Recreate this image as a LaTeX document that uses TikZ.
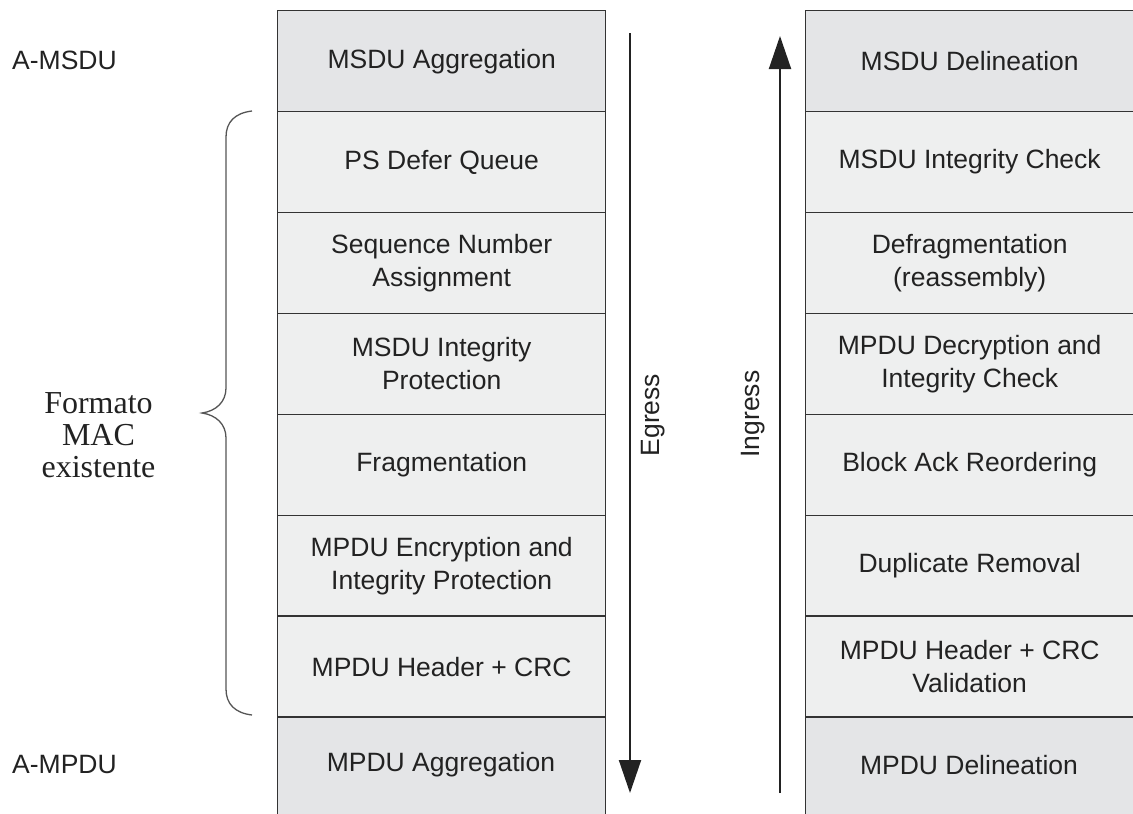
\documentclass[tikz,border=0pt]{standalone}
\usepackage{fontspec}
\setmainfont{Liberation Sans}
\newfontfamily\serifface{Liberation Serif}
\usetikzlibrary{arrows.meta}
\definecolor{edgecol}{HTML}{333333}
\definecolor{endfill}{HTML}{E4E5E7}
\definecolor{midfill}{HTML}{EEEFEF}
\definecolor{inkcol}{HTML}{222222}
\definecolor{bracecol}{HTML}{555555}

\begin{document}
\begin{tikzpicture}[x=1pt,y=-1pt,
  lbl/.style={text=inkcol, font=\fontsize{26.5}{33}\selectfont, inner sep=0pt},
  layer/.style={lbl, draw=edgecol, line width=1.4pt, fill=midfill,
    minimum width=328pt, minimum height=100.9pt, anchor=north west, align=center},
  endlayer/.style={layer, fill=endfill},
  lastlayer/.style={endlayer, minimum height=104pt},
  flow/.style={line width=2pt, draw=inkcol, -{Triangle[length=33pt,width=22pt]}},
]
\useasboundingbox (0,0) rectangle (1133,814);

% transmit stack (left column)
\node[endlayer]  (L1) at (277,10)    {MSDU Aggregation};
\node[layer]     (L2) at (277,110.9) {PS Defer Queue};
\node[layer]     (L3) at (277,211.8) {Sequence Number\\Assignment};
\node[layer]     (L4) at (277,312.7) {MSDU Integrity\\Protection};
\node[layer]     (L5) at (277,413.6) {Fragmentation};
\node[layer]     (L6) at (277,514.5) {MPDU Encryption and\\Integrity Protection};
\node[layer]     (L7) at (277,615.4) {MPDU Header + CRC};
\node[lastlayer] (L8) at (277,716.3) {};
\node[lbl] (L8t) at (441,765) {MPDU Aggregation};

% receive stack (right column)
\node[endlayer]  (R1) at (805,10)    {MSDU Delineation};
\node[layer]     (R2) at (805,110.9) {MSDU Integrity Check};
\node[layer]     (R3) at (805,211.8) {Defragmentation\\(reassembly)};
\node[layer]     (R4) at (805,312.7) {MPDU Decryption and\\Integrity Check};
\node[layer]     (R5) at (805,413.6) {Block Ack Reordering};
\node[layer]     (R6) at (805,514.5) {Duplicate Removal};
\node[layer]     (R7) at (805,615.4) {MPDU Header + CRC\\Validation};
\node[lastlayer] (R8) at (805,716.3) {};
\node[lbl] (R8t) at (969,765) {MPDU Delineation};

% direction arrows
\coordinate (egTop) at (630,33);
\coordinate (egEnd) at (630,793);
\coordinate (inBot) at (780,793);
\coordinate (inEnd) at (780,36);
\draw[flow] (egTop) -- (egEnd);
\draw[flow] (inBot) -- (inEnd);
\node[lbl, rotate=90] (egLbl) at (653,415) {Egress};
\node[lbl, rotate=90] (inLbl) at (753,414) {Ingress};

% side labels
\node[lbl, anchor=west] (amsdu) at (12,60.5) {A-MSDU};
\node[lbl, anchor=west] (ampdu) at (12,764.5) {A-MPDU};

% brace over the existing MAC layers
\draw[bracecol, line width=1.3pt]
  (252,111) .. controls (235,113) and (226,122) .. (226,137)
  -- (226,388) .. controls (226,402) and (216,411) .. (202,413)
  .. controls (216,415) and (226,424) .. (226,438)
  -- (226,689) .. controls (226,704) and (235,713) .. (252,715);
\node[text=inkcol, inner sep=0pt, align=center,
      font=\serifface\fontsize{32}{32}\selectfont] (macfmt) at (98.5,435)
  {Formato\\MAC\\existente};
\end{tikzpicture}
\end{document}
